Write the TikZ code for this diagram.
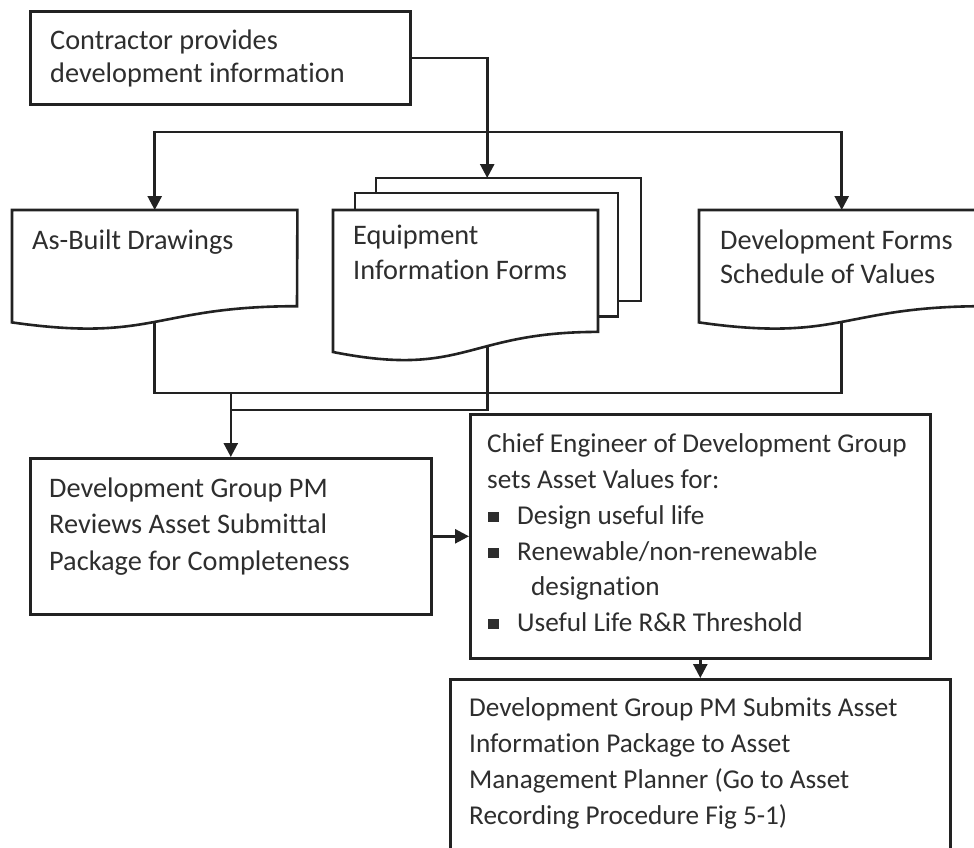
\documentclass[tikz,border=0pt]{standalone}
\usepackage{fontspec}
\setmainfont{Carlito}[Ligatures=NoCommon]
\usetikzlibrary{arrows.meta}
\definecolor{ink}{HTML}{222222}
\definecolor{txtc}{HTML}{2e2e2e}
\newcommand\sqbullet{\makebox[30pt][l]{\hspace{1pt}\rule[2.3pt]{11pt}{10pt}}}
\begin{document}
\begin{tikzpicture}[x=1pt,y=-1pt,
  line/.style={draw=ink, line width=2.6pt},
  arr/.style={line, -{Triangle[length=14pt,width=14pt]}},
  box/.style={line, rectangle, inner sep=0pt, anchor=north west},
  area/.style={rectangle, inner sep=0pt, anchor=north west},
  doc/.style={line, fill=white, line join=miter},
  % the anchor of a multi-line text is the baseline of its last line
  txt/.style={inner sep=0pt, anchor=base west, align=left, text=txtc,
              font=\fontsize{28.3}{36}\selectfont},
  txtb/.style={txt, font=\fontsize{27.2}{35.8}\selectfont},
]
\clip (0,0) rectangle (974,847);
\fill[white] (0,0) rectangle (974,847);

% process boxes
\node[box, minimum width=380pt, minimum height=93pt]  (contractor) at (29,10)  {};
\node[box, minimum width=401pt, minimum height=156pt] (review)     at (29,457) {};
\node[box, minimum width=460pt, minimum height=244pt] (chief)      at (469,413) {};
\node[box, minimum width=500pt, minimum height=171pt] (final)      at (449,678) {};

% areas occupied by the document symbols
\node[area, minimum width=285pt, minimum height=112pt] (asbuilt)  at (12,210)  {};
\node[area, minimum width=308pt, minimum height=142pt] (equip)    at (333,178) {};
\node[area, minimum width=285pt, minimum height=112pt] (devforms) at (699,210) {};

% junction points of the connector lines
\coordinate (split) at (487,132);
\coordinate (busA)  at (487,393);
\coordinate (busB)  at (487,410);

% collecting lines (partly hidden behind the documents)
\draw[line] (asbuilt.center) |- (busA) -| (devforms.center);
\draw[line] (equip.center) |- (review.north |- busB);
\draw[arr] (review.north |- busA) -- (review.north);

% document symbols
\filldraw[doc] (376,178) rectangle (641,301);
\filldraw[doc] (355,193) rectangle (618,316.5);
\filldraw[doc] (333,210) -- (598,210) -- (598,331.9)
  .. controls (465.5,331.9) and (465.5,378.3) .. (333,352) -- cycle;
\filldraw[doc] (asbuilt.north west) -- (asbuilt.north east) -- (297,306.2)
  .. controls (154.5,306.2) and (154.5,342.8) .. (asbuilt.south west) -- cycle;
\filldraw[doc] (devforms.north west) -- (984,210) -- (984,306.2)
  .. controls (841.5,306.2) and (841.5,342.8) .. (devforms.south west) -- cycle;

% distribution arrows
\draw[arr] (contractor.east) -| (equip.north);
\draw[arr] (split) -| (asbuilt.north);
\draw[arr] (split) -| (devforms.north);
\draw[arr] (review.east) -- (chief.west);
\draw[arr] (chief.south) -- (final.north);

% texts
\node[txt, font=\fontsize{28.3}{33}\selectfont] (t-contractor) at (50,82.3)
  {Contractor provides\\development information};
\node[txt] (t-asbuilt) at (32,249.3) {As-Built Drawings};
\node[txt, font=\fontsize{28.3}{35}\selectfont] (t-equip) at (353,279)
  {Equipment\\Information Forms};
\node[txt, font=\fontsize{28.3}{34}\selectfont] (t-dev) at (720,283.3)
  {Development Forms\\Schedule of Values};
\node[txt, font=\fontsize{28.3}{36.3}\selectfont] (t-review) at (49,570)
  {Development Group PM\\Reviews Asset Submittal\\Package for Completeness};
\node[txtb] (t-chief) at (487,631.7)
  {Chief Engineer of Development Group\\sets Asset Values for:\\
   \sqbullet Design useful life\\\sqbullet Renewable/non-renewable\\
   \hspace*{44pt}designation\\\sqbullet Useful Life R\&R Threshold};
\node[txtb] (t-final) at (469,824)
  {Development Group PM Submits Asset\\Information Package to Asset\\
   Management Planner (Go to Asset\\Recording Procedure Fig 5-1)};
\end{tikzpicture}
\end{document}
